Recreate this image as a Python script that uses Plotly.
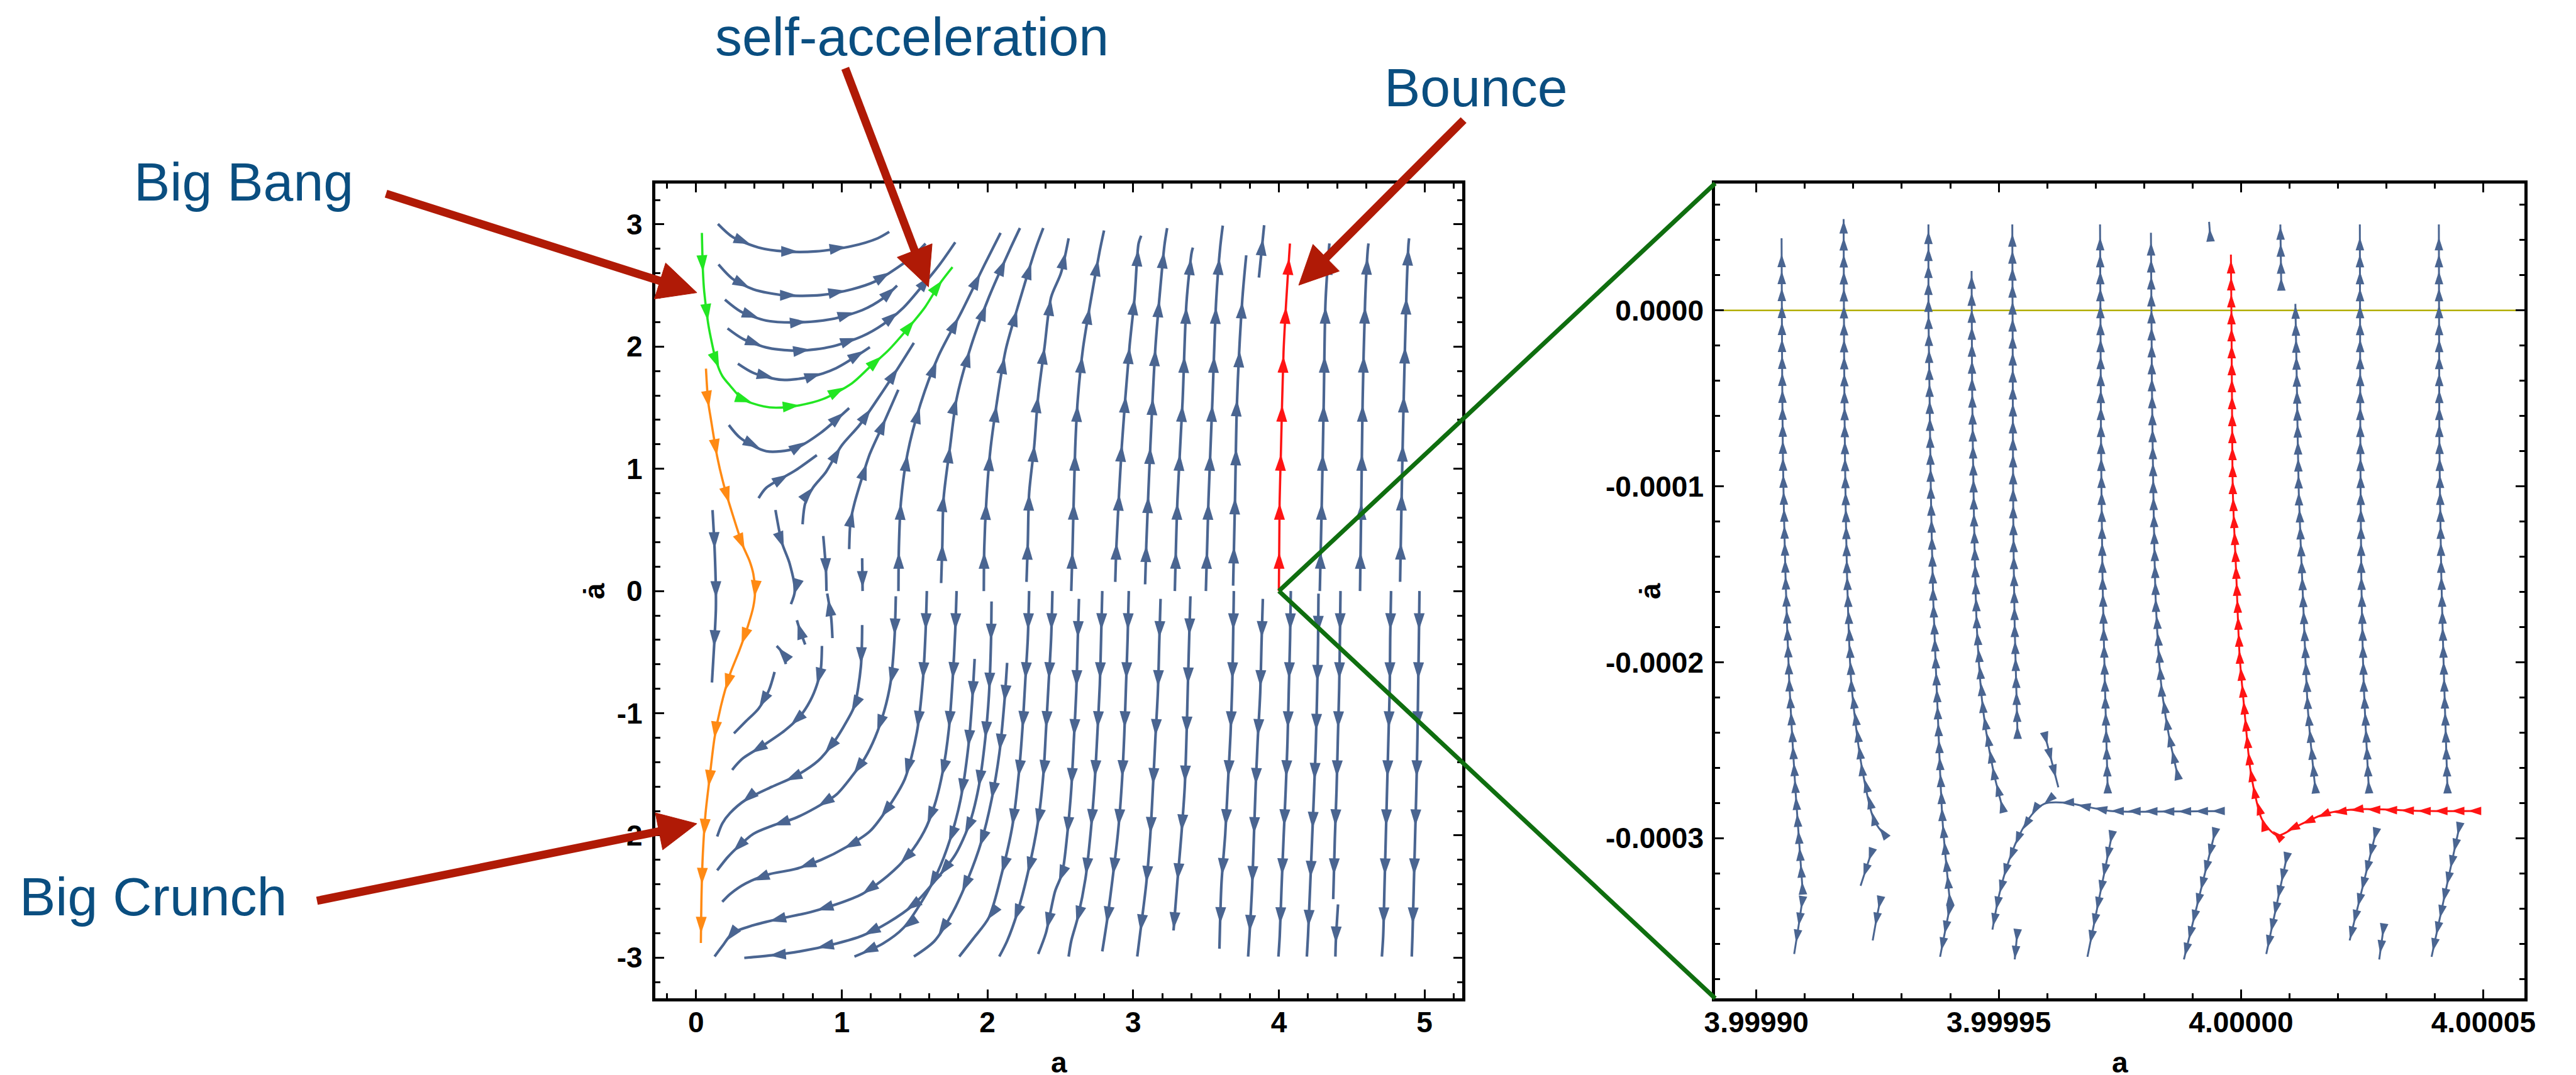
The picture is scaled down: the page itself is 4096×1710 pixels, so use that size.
import math
import plotly.graph_objects as go

W, H = 4096, 1710
RW, RH = 4476, 1869
S = W / RW

# ---------------- axes ----------------
LEFT_A_RANGE = [-0.28, 5.26]
LEFT_ADOT_RANGE = [-3.333, 3.336]
RIGHT_A_RANGE = [3.9998915, 4.0000585]
RIGHT_ADOT_RANGE = [-0.000391, 0.0000722]

LEFT_A_TICKS = [0, 1, 2, 3, 4, 5]
LEFT_A_TICKTEXT = ["0", "1", "2", "3", "4", "5"]
LEFT_ADOT_TICKS = [-3, -2, -1, 0, 1, 2, 3]
LEFT_ADOT_TICKTEXT = ["-3", "-2", "-1", "0", "1", "2", "3"]
RIGHT_A_TICKS = [3.99990, 3.99995, 4.00000, 4.00005]
RIGHT_A_TICKTEXT = ["3.99990", "3.99995", "4.00000", "4.00005"]
RIGHT_ADOT_TICKS = [0.0, -0.0001, -0.0002, -0.0003]
RIGHT_ADOT_TICKTEXT = ["0.0000", "-0.0001", "-0.0002", "-0.0003"]

# ---------------- left panel streamlines (a, adot) ----------------
GREEN_A = [0.04, 0.047, 0.056, 0.083, 0.10, 0.136, 0.18, 0.234, 0.32, 0.465, 0.55, 0.71, 0.87, 1.07, 1.19, 1.32, 1.44, 1.57, 1.67, 1.76]
GREEN_D = [2.93, 2.62, 2.45, 2.19, 2.08, 1.89, 1.76, 1.68, 1.57, 1.51, 1.50, 1.52, 1.57, 1.70, 1.83, 1.97, 2.13, 2.32, 2.51, 2.65]

ORANGE_A = [0.068, 0.083, 0.10, 0.145, 0.19, 0.25, 0.32, 0.367, 0.393, 0.405, 0.393, 0.358, 0.296, 0.233, 0.171, 0.127, 0.092, 0.065, 0.047, 0.038, 0.033]
ORANGE_D = [1.82, 1.55, 1.42, 1.10, 0.87, 0.63, 0.375, 0.247, 0.14, 0.0, -0.128, -0.278, -0.49, -0.68, -0.94, -1.20, -1.54, -1.82, -2.14, -2.46, -2.88]

RED_L_A = [4.000, 4.005, 4.014, 4.032, 4.050, 4.073, 4.076]
RED_L_D = [0.000, 0.727, 1.133, 1.956, 2.362, 2.790, 2.844]

U1_A = [0.150, 0.251, 0.429, 0.607, 0.820, 1.069, 1.246, 1.326]
U1_D = [3.004, 2.897, 2.811, 2.779, 2.779, 2.822, 2.886, 2.939]
U2_A = [0.154, 0.251, 0.393, 0.607, 0.855, 1.069, 1.228, 1.388, 1.495, 1.575]
U2_D = [2.672, 2.554, 2.469, 2.420, 2.422, 2.469, 2.533, 2.651, 2.747, 2.843]
U3_A = [0.198, 0.305, 0.482, 0.696, 0.927, 1.140, 1.282, 1.380]
U3_D = [2.384, 2.288, 2.213, 2.198, 2.224, 2.298, 2.394, 2.500]
U4_A = [0.216, 0.322, 0.500, 0.714, 0.927, 1.140, 1.282, 1.424, 1.548, 1.672, 1.779]
U4_D = [2.149, 2.063, 1.988, 1.967, 1.999, 2.085, 2.181, 2.320, 2.490, 2.672, 2.854]
U5_A = [0.287, 0.393, 0.589, 0.785, 0.962, 1.193]
U5_D = [1.860, 1.785, 1.728, 1.753, 1.824, 1.995]
U6_A = [0.225, 0.305, 0.482, 0.678, 0.855, 1.051]
U6_D = [1.358, 1.251, 1.144, 1.166, 1.294, 1.497]
L1_A = [0.429, 0.482, 0.678, 0.829]
L1_D = [0.760, 0.845, 0.984, 1.112]
L2_A = [0.731, 0.749, 0.802, 0.891, 0.997, 1.122, 1.246, 1.388, 1.495]
L2_D = [0.546, 0.717, 0.845, 0.973, 1.187, 1.358, 1.571, 1.828, 2.031]
L3_A = [1.051, 1.060, 1.087, 1.140, 1.193, 1.282, 1.388]
L3_D = [0.343, 0.567, 0.717, 0.930, 1.123, 1.358, 1.647]
K1_A = [1.389, 1.392, 1.406, 1.451, 1.540, 1.664, 1.824, 1.984, 2.090]
K1_D = [0.000, 0.354, 0.727, 1.123, 1.529, 1.924, 2.290, 2.680, 2.930]
K2_A = [1.682, 1.690, 1.699, 1.744, 1.788, 1.886, 2.010, 2.152, 2.223]
K2_D = [0.065, 0.365, 0.760, 1.187, 1.572, 2.000, 2.405, 2.790, 2.970]
K3_A = [1.975, 1.978, 1.993, 2.019, 2.064, 2.126, 2.223, 2.330, 2.383]
K3_D = [0.000, 0.354, 0.749, 1.144, 1.540, 1.978, 2.384, 2.800, 2.970]
K4_A = [2.268, 2.277, 2.286, 2.321, 2.348, 2.392, 2.437, 2.504, 2.557]
K4_D = [0.075, 0.396, 0.800, 1.187, 1.593, 1.999, 2.405, 2.600, 2.886]
CA_A = [2.575, 2.584, 2.602, 2.620, 2.655, 2.708, 2.770, 2.800]
CA_D = [0.000, 0.354, 1.166, 1.570, 1.980, 2.370, 2.780, 2.950]
CB_A = [2.877, 2.886, 2.922, 2.975, 3.010, 3.037, 3.055]
CB_D = [0.075, 0.396, 1.187, 2.000, 2.405, 2.843, 2.907]
CC_A = [3.082, 3.090, 3.118, 3.153, 3.180, 3.215, 3.233]
CC_D = [0.055, 0.375, 1.187, 2.000, 2.395, 2.833, 2.970]
CD_A = [3.286, 3.304, 3.339, 3.366, 3.401, 3.410]
CD_D = [0.000, 0.749, 1.550, 2.362, 2.768, 2.810]
CE_A = [3.499, 3.517, 3.544, 3.570, 3.597, 3.615]
CE_D = [0.000, 0.749, 1.561, 2.384, 2.810, 2.990]
CF_A = [3.686, 3.699, 3.713, 3.749, 3.776]
CF_D = [0.044, 0.749, 1.561, 2.384, 2.747]
CG_A = [3.863, 3.899]
CG_D = [2.565, 2.993]
CH_A = [4.281, 4.295, 4.308, 4.320, 4.343, 4.347]
CH_D = [0.000, 0.749, 1.550, 2.362, 2.790, 2.844]
CI_A = [4.557, 4.566, 4.575, 4.592, 4.610, 4.615]
CI_D = [0.000, 0.749, 1.561, 2.373, 2.790, 2.844]
CJ_A = [4.832, 4.844, 4.858, 4.876, 4.890, 4.894]
CJ_D = [0.075, 0.856, 1.636, 2.448, 2.844, 2.886]
D1_A = [0.113, 0.127, 0.136, 0.136, 0.124, 0.109]
D1_D = [0.663, 0.354, 0.000, -0.150, -0.449, -0.748]
D2_A = [0.545, 0.589, 0.642, 0.678, 0.651]
D2_D = [0.663, 0.397, 0.226, 0.000, -0.107]
D3_A = [0.873, 0.891, 0.895]
D3_D = [0.450, 0.183, 0.000]
D4_A = [1.140, 1.143]
D4_D = [0.268, 0.000]
C1_A = [0.749, 0.713, 0.692]
C1_D = [-0.438, -0.320, -0.239]
C2_A = [0.936, 0.927, 0.900]
C2_D = [-0.385, -0.214, -0.021]
C3_A = [0.616, 0.598, 0.553]
C3_D = [-0.598, -0.513, -0.449]
E1_A = [0.539, 0.500, 0.429, 0.340, 0.260]
E1_D = [-0.662, -0.812, -0.962, -1.068, -1.165]
E2_A = [0.864, 0.856, 0.829, 0.784, 0.713, 0.607, 0.464, 0.322, 0.269, 0.248]
E2_D = [-0.449, -0.641, -0.769, -0.897, -1.026, -1.143, -1.261, -1.368, -1.432, -1.464]
E3_A = [1.140, 1.131, 1.087, 1.033, 0.944, 0.838, 0.678, 0.518, 0.340, 0.234, 0.180, 0.145]
E3_D = [-0.278, -0.620, -0.940, -1.068, -1.239, -1.389, -1.517, -1.603, -1.709, -1.816, -1.902, -2.009]
E4_A = [1.371, 1.362, 1.335, 1.291, 1.229, 1.158, 1.069, 0.962, 0.820, 0.678, 0.518, 0.393, 0.287, 0.216, 0.145]
E4_D = [-0.043, -0.385, -0.748, -0.983, -1.197, -1.368, -1.517, -1.667, -1.774, -1.859, -1.923, -1.987, -2.094, -2.179, -2.286]
E5_A = [1.584, 1.575, 1.557, 1.516, 1.433, 1.317, 1.193, 1.033, 0.856, 0.678, 0.500, 0.340, 0.234, 0.180]
E5_D = [0.000, -0.342, -0.726, -1.154, -1.538, -1.774, -1.966, -2.094, -2.201, -2.276, -2.318, -2.393, -2.479, -2.543]
E6_A = [1.788, 1.779, 1.762, 1.735, 1.690, 1.637, 1.566, 1.460, 1.317, 1.140, 0.962, 0.784, 0.571, 0.393, 0.251, 0.180, 0.127]
E6_D = [0.000, -0.321, -0.705, -1.132, -1.496, -1.752, -1.966, -2.158, -2.329, -2.479, -2.564, -2.628, -2.682, -2.735, -2.799, -2.906, -2.991]
E7_A = [2.028, 2.024, 2.010, 1.984, 1.940, 1.877, 1.779, 1.655, 1.495, 1.317, 1.140, 0.962, 0.713, 0.518, 0.331]
E7_D = [-0.085, -0.427, -0.855, -1.218, -1.603, -1.902, -2.158, -2.350, -2.564, -2.714, -2.821, -2.885, -2.949, -2.981, -3.002]
E8_A = [1.912, 1.894, 1.868, 1.815, 1.744, 1.655, 1.548, 1.424, 1.282, 1.087]
E8_D = [-0.556, -0.919, -1.282, -1.709, -2.030, -2.308, -2.543, -2.756, -2.885, -2.991]
E9_A = [2.135, 2.117, 2.082, 2.028, 1.958, 1.868, 1.762, 1.637, 1.495]
E9_D = [-0.588, -0.897, -1.325, -1.709, -2.051, -2.350, -2.628, -2.863, -2.991]
E10_A = [2.286, 2.277, 2.259, 2.241, 2.215, 2.171, 2.099, 2.010, 1.904, 1.806]
E10_D = [0.000, -0.385, -0.748, -1.111, -1.496, -1.923, -2.308, -2.671, -2.842, -2.991]
E11_A = [2.446, 2.437, 2.419, 2.401, 2.384, 2.348, 2.277, 2.206, 2.135, 2.081]
E11_D = [0.000, -0.385, -0.769, -1.154, -1.496, -1.880, -2.308, -2.628, -2.863, -2.991]
F1_A = [2.628, 2.619, 2.610, 2.593, 2.575, 2.548, 2.513, 2.464, 2.401, 2.348]
F1_D = [-0.064, -0.427, -0.812, -1.218, -1.624, -1.987, -2.308, -2.457, -2.799, -2.970]
F2_A = [2.788, 2.780, 2.771, 2.753, 2.735, 2.709, 2.673, 2.620, 2.575, 2.557]
F2_D = [0.000, -0.385, -0.769, -1.197, -1.581, -1.966, -2.350, -2.671, -2.863, -2.991]
F3_A = [2.970, 2.962, 2.951, 2.939, 2.922, 2.895, 2.859, 2.824, 2.788]
F3_D = [0.000, -0.385, -0.769, -1.175, -1.581, -1.987, -2.350, -2.671, -2.949]
F4_A = [3.188, 3.179, 3.170, 3.152, 3.135, 3.117, 3.090, 3.055, 3.028]
F4_D = [-0.064, -0.427, -0.812, -1.218, -1.624, -2.009, -2.393, -2.735, -2.991]
F5_A = [3.393, 3.384, 3.375, 3.366, 3.354, 3.330, 3.304, 3.277]
F5_D = [-0.043, -0.406, -0.791, -1.197, -1.603, -2.009, -2.372, -2.778]
F6_A = [3.691, 3.686, 3.680, 3.668, 3.650, 3.632, 3.606, 3.592]
F6_D = [0.000, -0.385, -0.769, -1.175, -1.581, -1.987, -2.393, -2.927]
F7_A = [3.890, 3.881, 3.872, 3.854, 3.840, 3.828, 3.816, 3.798, 3.789]
F7_D = [-0.064, -0.427, -0.833, -1.239, -1.624, -2.030, -2.436, -2.821, -2.991]
F8_A = [4.082, 4.077, 4.068, 4.059, 4.047, 4.032, 4.018, 4.006, 3.997]
F8_D = [0.000, -0.385, -0.812, -1.239, -1.624, -2.030, -2.436, -2.821, -2.991]
F9_A = [4.272, 4.269, 4.263, 4.254, 4.242, 4.228, 4.214, 4.200, 4.192]
F9_D = [-0.021, -0.406, -0.812, -1.239, -1.624, -2.030, -2.436, -2.821, -2.991]
F10_A = [4.423, 4.419, 4.414, 4.405, 4.396, 4.384, 4.373]
F10_D = [0.000, -0.385, -0.791, -1.197, -1.624, -2.030, -2.521]
F10B_A = [4.406, 4.391, 4.388]
F10B_D = [-2.564, -2.863, -2.991]
F11_A = [4.770, 4.764, 4.761, 4.752, 4.743, 4.734, 4.725, 4.716, 4.707]
F11_D = [0.000, -0.385, -0.791, -1.197, -1.603, -2.009, -2.415, -2.821, -2.991]
F12_A = [4.965, 4.961, 4.956, 4.951, 4.944, 4.935, 4.926, 4.917, 4.912]
F12_D = [0.000, -0.385, -0.791, -1.197, -1.603, -2.009, -2.415, -2.821, -2.991]

# ---------------- right panel streamlines (a, adot) ----------------
R1_A = [3.9999096, 3.9999081, 3.9999068, 3.9999060, 3.9999055, 3.9999053, 3.9999052]
R1_D = [-0.0003317, -0.0002742, -0.0002121, -0.0001500, -0.0000879, -0.0000258, 0.0000410]
R1B_A = [3.9999096, 3.9999086, 3.9999078]
R1B_D = [-0.0003332, -0.0003519, -0.0003658]
R2_A = [3.9999269, 3.9999243, 3.9999217, 3.9999196, 3.9999187, 3.9999183, 3.9999181, 3.9999180]
R2_D = [-0.0002997, -0.0002898, -0.0002587, -0.0002121, -0.0001500, -0.0000879, -0.0000258, 0.0000519]
R2B_A = [3.9999240, 3.9999227, 3.9999215]
R2B_D = [-0.0003059, -0.0003168, -0.0003270]
R2C_A = [3.9999257, 3.9999248, 3.9999240]
R2C_D = [-0.0003332, -0.0003457, -0.0003581]
R3_A = [3.9999400, 3.9999384, 3.9999374, 3.9999365, 3.9999360, 3.9999357, 3.9999355, 3.9999355]
R3_D = [-0.0003379, -0.0002898, -0.0002276, -0.0001655, -0.0001034, -0.0000413, 0.0, 0.0000488]
R3B_A = [3.9999400, 3.9999390, 3.9999379]
R3B_D = [-0.0003379, -0.0003519, -0.0003674]
R4_A = [3.9999510, 3.9999489, 3.9999468, 3.9999455, 3.9999449, 3.9999445, 3.9999444]
R4_D = [-0.0002851, -0.0002618, -0.0002276, -0.0001811, -0.0001189, -0.0000413, 0.0000224]
R5_A = [3.9999539, 3.9999533, 3.9999530, 3.9999529, 3.9999528]
R5_D = [-0.0002432, -0.0001811, -0.0001189, -0.0000413, 0.0000488]
R6_A = [3.9999725, 3.9999719, 3.9999714, 3.9999711, 3.9999709]
R6_D = [-0.0002742, -0.0002121, -0.0001500, -0.0000724, 0.0000488]
R7_A = [3.9999871, 3.9999850, 3.9999835, 3.9999824, 3.9999819, 3.9999816, 3.9999814]
R7_D = [-0.0002665, -0.0002400, -0.0002121, -0.0001655, -0.0001034, -0.0000413, 0.0000441]
R8_A = [3.9999937, 3.9999934]
R8_D = [0.0000394, 0.0000503]
R9_A = [4.0000154, 4.0000138, 4.0000128, 4.0000119, 4.0000115, 4.0000112]
R9_D = [-0.0002742, -0.0002276, -0.0001655, -0.0001034, -0.0000413, 0.0000037]
R9B_A = [4.0000083, 4.0000081]
R9B_D = [0.0000115, 0.0000488]
R10_A = [4.0000264, 4.0000253, 4.0000248, 4.0000246, 4.0000245]
R10_D = [-0.0002742, -0.0002121, -0.0001500, -0.0000724, 0.0000488]
R11_A = [4.0000426, 4.0000419, 4.0000413, 4.0000409, 4.0000408]
R11_D = [-0.0002742, -0.0002121, -0.0001500, -0.0000724, 0.0000488]
HB_A = [3.9999965, 3.9999856, 3.9999730, 3.9999636, 3.9999594, 3.9999568, 3.9999541, 3.9999515, 3.9999500, 3.9999487]
HB_D = [-0.0002845, -0.0002848, -0.0002845, -0.0002798, -0.0002804, -0.0002867, -0.0002991, -0.0003177, -0.0003332, -0.0003519]
B1_A = [3.9999594, 3.9999623]
B1_D = [-0.0002400, -0.0002711]
B2_A = [3.9999735, 3.9999683]
B2_D = [-0.0002960, -0.0003674]
B3_A = [3.9999948, 3.9999882]
B3_D = [-0.0002944, -0.0003689]
B4_A = [4.0000096, 4.0000052]
B4_D = [-0.0003084, -0.0003658]
B5_A = [4.0000280, 4.0000224]
B5_D = [-0.0002944, -0.0003581]
B6_A = [4.0000295, 4.0000285]
B6_D = [-0.0003488, -0.0003689]
B7_A = [4.0000452, 4.0000393]
B7_D = [-0.0002913, -0.0003674]
B8_A = [3.9999539, 3.9999533]
B8_D = [-0.0003519, -0.0003689]
RED_R_A = [4.0000494, 4.0000379, 4.0000243, 4.0000175, 4.0000117, 4.0000075, 4.0000044, 4.0000028, 4.0000018, 4.0000007, 3.9999997, 3.9999990, 3.9999983, 3.9999981, 3.9999980, 3.9999979]
RED_R_D = [-0.0002845, -0.0002845, -0.0002835, -0.0002860, -0.0002929, -0.0002984, -0.0002898, -0.0002742, -0.0002587, -0.0002276, -0.0001965, -0.0001500, -0.0001034, -0.0000413, 0.0, 0.0000317]

LABELS = ["Big Bang", "self-acceleration", "Bounce", "Big Crunch"]

# ---------------- styles ----------------
BLUE = "#4a6591"
GREEN = "#22e622"
ORANGE = "#ff8a14"
RED = "#ff1414"
TEXT_BLUE = "#0a4e80"
ARROW_RED = "#b01a06"
DARK_GREEN = "#0f6e0f"
OLIVE = "#b3ae00"
FONT = "Liberation Sans"

LEFT_BOX = (1120, 310, 2535, 1727)    # reference pixels: left, top, right, bottom
RIGHT_BOX = (2978, 310, 4397, 1727)


def dom(box):
    l, t, r, b = box
    return [l / RW, r / RW], [1 - b / RH, 1 - t / RH]


LX, LY = dom(LEFT_BOX)
RXd, RYd = dom(RIGHT_BOX)


def scale(xdom, ydom, xr, yr):
    kx = (xdom[1] - xdom[0]) * W / (xr[1] - xr[0])
    ky = (ydom[1] - ydom[0]) * H / (yr[1] - yr[0])
    return kx, ky


LK = scale(LX, LY, LEFT_A_RANGE, LEFT_ADOT_RANGE)
RK = scale(RXd, RYd, RIGHT_A_RANGE, RIGHT_ADOT_RANGE)


def arrow_marks(xs, ys, k, spacing, first):
    kx, ky = k
    px = [x * kx for x in xs]
    py = [y * ky for y in ys]
    segs = []
    total = 0.0
    for i in range(1, len(xs)):
        d = math.hypot(px[i] - px[i - 1], py[i] - py[i - 1])
        segs.append(d)
        total += d
    targets = []
    if total < first:
        targets = [total * 0.9]
    else:
        t = first
        while t <= total:
            targets.append(t)
            t += spacing
    ox, oy, ang = [], [], []
    acc = 0.0
    j = 0
    for i in range(1, len(xs)):
        d = segs[i - 1]
        if d == 0:
            continue
        while j < len(targets) and targets[j] <= acc + d:
            f = (targets[j] - acc) / d
            ox.append(xs[i - 1] + f * (xs[i] - xs[i - 1]))
            oy.append(ys[i - 1] + f * (ys[i] - ys[i - 1]))
            ang.append(math.degrees(math.atan2(px[i] - px[i - 1], py[i] - py[i - 1])))
            j += 1
        acc += d
    return ox, oy, ang


fig = go.Figure()


def add_group(lines, color, xa, ya, k, width, spacing, first, size):
    ax_all, ay_all, ang_all = [], [], []
    for xs, ys in lines:
        fig.add_trace(go.Scatter(x=xs, y=ys, mode="lines", xaxis=xa, yaxis=ya,
                                 line=dict(color=color, width=width, shape="spline", smoothing=0.8),
                                 hoverinfo="skip", showlegend=False))
        ox, oy, an = arrow_marks(xs, ys, k, spacing, first)
        ax_all += ox
        ay_all += oy
        ang_all += an
    fig.add_trace(go.Scatter(x=ax_all, y=ay_all, mode="markers", xaxis=xa, yaxis=ya,
                             marker=dict(symbol="arrow", size=size, angle=ang_all, color=color,
                                         line=dict(width=0)),
                             hoverinfo="skip", showlegend=False))


LEFT_BLUE = [(U1_A, U1_D), (U2_A, U2_D), (U3_A, U3_D), (U4_A, U4_D), (U5_A, U5_D), (U6_A, U6_D),
             (L1_A, L1_D), (L2_A, L2_D), (L3_A, L3_D), (K1_A, K1_D), (K2_A, K2_D), (K3_A, K3_D),
             (K4_A, K4_D), (CA_A, CA_D), (CB_A, CB_D), (CC_A, CC_D), (CD_A, CD_D), (CE_A, CE_D),
             (CF_A, CF_D), (CG_A, CG_D), (CH_A, CH_D), (CI_A, CI_D), (CJ_A, CJ_D),
             (D1_A, D1_D), (D2_A, D2_D), (D3_A, D3_D), (D4_A, D4_D), (C1_A, C1_D), (C2_A, C2_D),
             (C3_A, C3_D), (E1_A, E1_D), (E2_A, E2_D), (E3_A, E3_D), (E4_A, E4_D), (E5_A, E5_D),
             (E6_A, E6_D), (E7_A, E7_D), (E8_A, E8_D), (E9_A, E9_D), (E10_A, E10_D), (E11_A, E11_D),
             (F1_A, F1_D), (F2_A, F2_D), (F3_A, F3_D), (F4_A, F4_D), (F5_A, F5_D), (F6_A, F6_D),
             (F7_A, F7_D), (F8_A, F8_D), (F9_A, F9_D), (F10_A, F10_D), (F10B_A, F10B_D),
             (F11_A, F11_D), (F12_A, F12_D)]

RIGHT_BLUE = [(R1_A, R1_D), (R1B_A, R1B_D), (R2_A, R2_D), (R2B_A, R2B_D), (R2C_A, R2C_D),
              (R3_A, R3_D), (R3B_A, R3B_D), (R4_A, R4_D), (R5_A, R5_D), (R6_A, R6_D),
              (R7_A, R7_D), (R8_A, R8_D), (R9_A, R9_D), (R9B_A, R9B_D), (R10_A, R10_D),
              (R11_A, R11_D), (HB_A, HB_D), (B1_A, B1_D), (B2_A, B2_D), (B3_A, B3_D),
              (B4_A, B4_D), (B5_A, B5_D), (B6_A, B6_D), (B7_A, B7_D), (B8_A, B8_D)]

add_group(LEFT_BLUE, BLUE, "x", "y", LK, 4.2, 78, 62, 28)
add_group([(GREEN_A, GREEN_D)], GREEN, "x", "y", LK, 3.6, 78, 62, 28)
add_group([(ORANGE_A, ORANGE_D)], ORANGE, "x", "y", LK, 3.6, 78, 62, 28)
add_group([(RED_L_A, RED_L_D)], RED, "x", "y", LK, 3.6, 78, 62, 28)
add_group(RIGHT_BLUE, BLUE, "x2", "y2", RK, 3.0, 27, 20, 22)
add_group([(RED_R_A, RED_R_D)], RED, "x2", "y2", RK, 3.0, 27, 20, 22)


def frange(a, b, step):
    out = []
    n = int(math.floor((b - a) / step + 1e-9))
    for i in range(n + 1):
        out.append(a + i * step)
    return out


tickfont = dict(family=FONT, size=46, color="black", weight="bold")
axcommon = dict(showline=True, linewidth=5, linecolor="black", mirror="allticks",
                ticks="inside", ticklen=14, tickwidth=3, tickcolor="black",
                showgrid=False, zeroline=False, tickfont=tickfont, tickmode="array")

fig.update_layout(
    xaxis=dict(domain=LX, range=LEFT_A_RANGE, anchor="y", tickvals=LEFT_A_TICKS, ticktext=LEFT_A_TICKTEXT,
               ticklabelstandoff=-6,
               minor=dict(tickmode="array", tickvals=frange(-0.2, 5.2, 0.2), ticks="inside",
                          ticklen=8, tickwidth=2.5, tickcolor="black", showgrid=False),
               **axcommon),
    yaxis=dict(domain=LY, range=LEFT_ADOT_RANGE, anchor="x", tickvals=LEFT_ADOT_TICKS, ticktext=LEFT_ADOT_TICKTEXT,
               ticklabelstandoff=6,
               minor=dict(tickmode="array", tickvals=frange(-3.2, 3.2, 0.2), ticks="inside",
                          ticklen=8, tickwidth=2.5, tickcolor="black", showgrid=False),
               **axcommon),
    xaxis2=dict(domain=RXd, range=RIGHT_A_RANGE, anchor="y2", tickvals=RIGHT_A_TICKS, ticktext=RIGHT_A_TICKTEXT,
                ticklabelstandoff=-6,
                minor=dict(tickmode="array", tickvals=frange(3.99989, 4.00006, 0.00001), ticks="inside",
                           ticklen=8, tickwidth=2.5, tickcolor="black", showgrid=False),
                **axcommon),
    yaxis2=dict(domain=RYd, range=RIGHT_ADOT_RANGE, anchor="x2", tickvals=RIGHT_ADOT_TICKS, ticktext=RIGHT_ADOT_TICKTEXT,
                ticklabelstandoff=4,
                minor=dict(tickmode="array", tickvals=frange(-0.00038, 0.00006, 0.00002), ticks="inside",
                           ticklen=8, tickwidth=2.5, tickcolor="black", showgrid=False),
                **axcommon),
    width=W, height=H, margin=dict(l=0, r=0, t=0, b=0),
    paper_bgcolor="white", plot_bgcolor="white", showlegend=False,
)

# zero line in the zoomed panel
fig.add_shape(type="line", xref="x2 domain", yref="y2", x0=0, x1=1, y0=0, y1=0,
              line=dict(color=OLIVE, width=2.5), layer="below")


def to_paper(xr, yr):
    return xr / RW, 1 - yr / RH


def left_data_to_paper(a, d):
    px = LX[0] + (a - LEFT_A_RANGE[0]) / (LEFT_A_RANGE[1] - LEFT_A_RANGE[0]) * (LX[1] - LX[0])
    py = LY[0] + (d - LEFT_ADOT_RANGE[0]) / (LEFT_ADOT_RANGE[1] - LEFT_ADOT_RANGE[0]) * (LY[1] - LY[0])
    return px, py


# green connectors: from (a=4, adot=0) on left panel to right panel corners
sx, sy = left_data_to_paper(4.0, 0.0)
for cy in (RYd[1], RYd[0]):
    fig.add_shape(type="line", xref="paper", yref="paper", x0=sx, y0=sy, x1=RXd[0], y1=cy,
                  line=dict(color=DARK_GREEN, width=7), layer="above")

# red pointer arrows (reference pixel coordinates of tail and tip)
POINTERS = [((648, 328), (1193, 500)),
            ((1453, 110), (1599, 490)),
            ((2537, 200), (2248, 487)),
            ((527, 1557), (1193, 1423))]
HEAD_L, HEAD_HW, SHAFT_W = 62, 30, 13
for (tx, ty), (hx, hy) in POINTERS:
    X0, Y0, X1, Y1 = tx * S, ty * S, hx * S, hy * S
    L = math.hypot(X1 - X0, Y1 - Y0)
    ux, uy = (X1 - X0) / L, (Y1 - Y0) / L
    bx, by = X1 - ux * HEAD_L, Y1 - uy * HEAD_L
    nx, ny = -uy, ux
    pts = [(X1, Y1), (bx + nx * HEAD_HW, by + ny * HEAD_HW), (bx - nx * HEAD_HW, by - ny * HEAD_HW)]
    fig.add_shape(type="line", xref="paper", yref="paper",
                  x0=X0 / W, y0=1 - Y0 / H, x1=(bx + ux * 8) / W, y1=1 - (by + uy * 8) / H,
                  line=dict(color=ARROW_RED, width=SHAFT_W), layer="above")
    path = "M " + " L ".join(f"{p[0] / W},{1 - p[1] / H}" for p in pts) + " Z"
    fig.add_shape(type="path", xref="paper", yref="paper", path=path,
                  fillcolor=ARROW_RED, line=dict(color=ARROW_RED, width=1), layer="above")

# text labels (reference pixel centers)
LABEL_POS = [(398, 307), (1570, 55), (2559, 143), (240, 1550)]
for txt, (cx, cy) in zip(LABELS, LABEL_POS):
    px, py = to_paper(cx, cy)
    fig.add_annotation(x=px, y=py, xref="paper", yref="paper", text=txt, showarrow=False,
                       xanchor="center", yanchor="middle",
                       font=dict(family=FONT, size=86, color=TEXT_BLUE))

# axis titles
title_font = dict(family=FONT, size=46, color="black", weight="bold")
for cx in (1828, 3688):
    px, _ = to_paper(cx, 0)
    fig.add_annotation(x=px, y=0, xref="paper", yref="paper", text="a", showarrow=False,
                       xanchor="center", yanchor="bottom", font=title_font)
for cx in (1013, 2864):
    px, py = to_paper(cx, 1019)
    fig.add_annotation(x=px, y=py, xref="paper", yref="paper", text="ȧ", showarrow=False,
                       xanchor="center", yanchor="middle", textangle=-90, font=title_font)

fig.write_html("out.html", config={"displayModeBar": False})
